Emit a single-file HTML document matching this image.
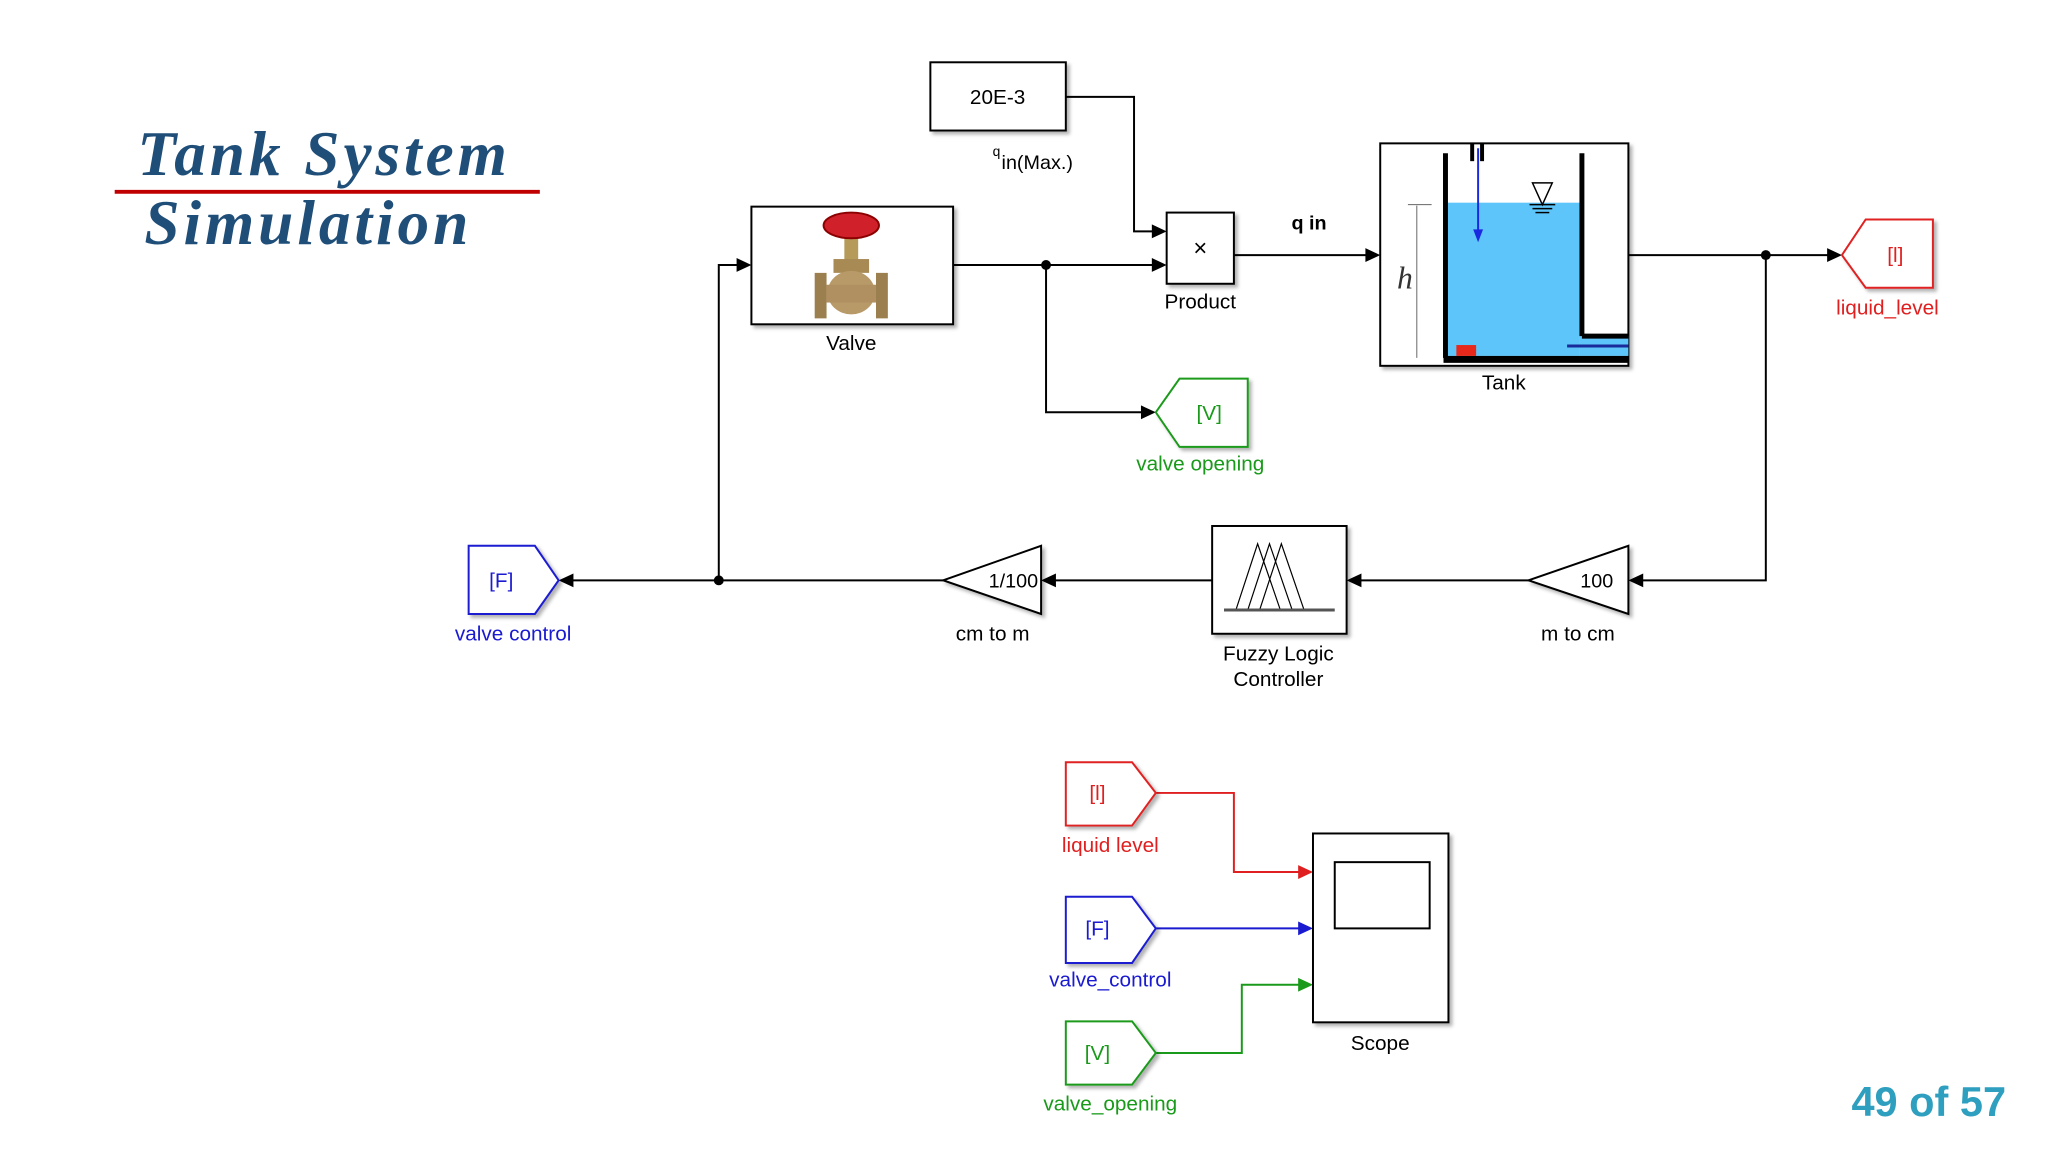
<!DOCTYPE html>
<html><head><meta charset="utf-8"><style>
html,body{margin:0;padding:0;background:#fff;}
svg{display:block;}
text{font-family:"Liberation Sans",sans-serif;}
</style></head><body>
<svg width="2048" height="1152" viewBox="0 0 2048 1152" xmlns="http://www.w3.org/2000/svg">
<defs>
<filter id="sh" x="-10%" y="-10%" width="130%" height="130%"><feDropShadow dx="3" dy="3" stdDeviation="2" flood-color="#000" flood-opacity="0.3"/></filter>
</defs>
<g transform="scale(0.9887)">
<text x="139" y="177" font-style="italic" font-weight="bold" font-size="64" letter-spacing="4" fill="#1f4e79" style="font-family:'Liberation Serif',serif">Tank System</text>
<line x1="116" y1="194" x2="546" y2="194" stroke="#c00000" stroke-width="4"/>
<text x="146" y="247" font-style="italic" font-weight="bold" font-size="64" letter-spacing="4" fill="#1f4e79" style="font-family:'Liberation Serif',serif">Simulation</text>

<g stroke="#000" stroke-width="2" fill="none">
<polyline points="1078,98 1147,98 1147,234 1170,234"/>
<line x1="964" y1="268" x2="1170" y2="268"/>
<polyline points="1058,268 1058,417 1160,417"/>
<line x1="1248" y1="258" x2="1386" y2="258"/>
<line x1="1647" y1="258" x2="1853" y2="258"/>
<polyline points="1786,258 1786,587 1657,587"/>
<line x1="1546" y1="587" x2="1372" y2="587"/>
<line x1="1226" y1="587" x2="1063" y2="587"/>
<line x1="954" y1="587" x2="575" y2="587"/>
<polyline points="727,587 727,268 750,268"/>
</g>
<g fill="#000">
<circle cx="1058" cy="268" r="5"/><circle cx="1786" cy="258" r="5"/><circle cx="727" cy="587" r="5"/>
<polygon points="1165,227 1180,234 1165,241"/>
<polygon points="1165,261 1180,268 1165,275"/>
<polygon points="1154,410 1169,417 1154,424"/>
<polygon points="1381,251 1396,258 1381,265"/>
<polygon points="1848,251 1863,258 1848,265"/>
<polygon points="1662,580 1647,587 1662,594"/>
<polygon points="1377,580 1362,587 1377,594"/>
<polygon points="1068,580 1053,587 1068,594"/>
<polygon points="580,580 565,587 580,594"/>
<polygon points="745,261 760,268 745,275"/>
</g>

<rect x="941" y="63" width="137" height="69" fill="#fff" stroke="#000" stroke-width="2" filter="url(#sh)"/>
<text x="1009" y="105" font-size="21" text-anchor="middle">20E-3</text>
<text x="1004" y="158" font-size="14">q</text><text x="1013" y="171" font-size="20">in(Max.)</text>

<rect x="1180" y="215" width="68" height="72" fill="#fff" stroke="#000" stroke-width="2" filter="url(#sh)"/>
<text x="1214" y="259" font-size="24" text-anchor="middle">×</text>
<text x="1214" y="312" font-size="21" text-anchor="middle">Product</text>
<text x="1324" y="232" font-size="20" font-weight="bold" text-anchor="middle">q in</text>

<rect x="760" y="209" width="204" height="119" fill="#fff" stroke="#000" stroke-width="2" filter="url(#sh)"/>
<g>
<rect x="854" y="236" width="14" height="30" fill="#b59a5a"/>
<ellipse cx="861" cy="228" rx="28" ry="13" fill="#d0202a" stroke="#8b0000" stroke-width="2"/>
<rect x="843" y="262" width="36" height="14" fill="#a88a55"/>
<ellipse cx="861" cy="296" rx="24" ry="22" fill="#b89a68"/>
<rect x="824" y="276" width="12" height="46" fill="#9c7f4f"/>
<rect x="886" y="276" width="12" height="46" fill="#9c7f4f"/>
<rect x="836" y="288" width="50" height="18" fill="#b09060"/>
</g>
<text x="861" y="354" font-size="21" text-anchor="middle">Valve</text>

<polygon points="1169,417 1193,383 1262,383 1262,452 1193,452" fill="#fff" stroke="#1a9a1a" stroke-width="2" filter="url(#sh)"/>
<text x="1223" y="425" font-size="21" fill="#1a9a1a" text-anchor="middle">[V]</text>
<text x="1214" y="476" font-size="21" fill="#1a9a1a" text-anchor="middle">valve opening</text>

<rect x="1396" y="145" width="251" height="225" fill="#fff" stroke="#000" stroke-width="2" filter="url(#sh)"/>
<rect x="1462" y="205" width="136" height="155" fill="#5ec5fa"/>
<rect x="1598" y="340" width="49" height="20" fill="#5ec5fa"/>
<line x1="1462" y1="155" x2="1462" y2="362" stroke="#000" stroke-width="5"/>
<line x1="1600" y1="155" x2="1600" y2="340" stroke="#000" stroke-width="5"/>
<line x1="1600" y1="340" x2="1647" y2="340" stroke="#000" stroke-width="5"/>
<line x1="1585" y1="350" x2="1647" y2="350" stroke="#1a2a9a" stroke-width="3"/>
<rect x="1460" y="360" width="187" height="7" fill="#000"/>
<rect x="1473" y="349" width="20" height="11" fill="#e8281a"/>
<rect x="1487" y="145" width="4" height="18" fill="#000"/><rect x="1497" y="145" width="4" height="18" fill="#000"/>
<line x1="1495" y1="150" x2="1495" y2="235" stroke="#1a2ae0" stroke-width="2"/>
<polygon points="1490,232 1500,232 1495,245" fill="#1a2ae0"/>
<polygon points="1550,185 1570,185 1560,207" fill="none" stroke="#000" stroke-width="1.5"/>
<line x1="1547" y1="207" x2="1573" y2="207" stroke="#000" stroke-width="1.5"/>
<line x1="1550" y1="211" x2="1570" y2="211" stroke="#000" stroke-width="1.5"/>
<line x1="1553" y1="215" x2="1567" y2="215" stroke="#000" stroke-width="1.5"/>
<line x1="1433" y1="208" x2="1433" y2="362" stroke="#666" stroke-width="1"/>
<line x1="1424" y1="207" x2="1448" y2="207" stroke="#666" stroke-width="1"/>
<text x="1413" y="292" font-size="32" font-style="italic" style="font-family:'Liberation Serif',serif" fill="#333">h</text>
<text x="1521" y="394" font-size="21" text-anchor="middle">Tank</text>

<polygon points="1863,258 1887,222 1955,222 1955,291 1887,291" fill="#fff" stroke="#e02020" stroke-width="2" filter="url(#sh)"/>
<text x="1917" y="265" font-size="21" fill="#e02020" text-anchor="middle">[l]</text>
<text x="1909" y="318" font-size="21" fill="#e02020" text-anchor="middle">liquid_level</text>

<polygon points="1546,587 1647,552 1647,621" fill="#fff" stroke="#000" stroke-width="2" filter="url(#sh)"/>
<text x="1615" y="594" font-size="20" text-anchor="middle">100</text>
<text x="1596" y="648" font-size="21" text-anchor="middle">m to cm</text>

<rect x="1226" y="532" width="136" height="109" fill="#fff" stroke="#000" stroke-width="2" filter="url(#sh)"/>
<g stroke="#000" stroke-width="1.2" fill="none">
<polyline points="1250,617 1272,550 1295,617"/>
<polyline points="1262,617 1284,550 1307,617"/>
<polyline points="1274,617 1296,550 1319,617"/>
<line x1="1238" y1="617" x2="1350" y2="617" stroke="#555" stroke-width="3"/>
</g>
<text x="1293" y="668" font-size="21" text-anchor="middle">Fuzzy Logic</text>
<text x="1293" y="694" font-size="21" text-anchor="middle">Controller</text>

<polygon points="954,587 1053,552 1053,621" fill="#fff" stroke="#000" stroke-width="2" filter="url(#sh)"/>
<text x="1025" y="594" font-size="20" text-anchor="middle">1/100</text>
<text x="1004" y="648" font-size="21" text-anchor="middle">cm to m</text>

<polygon points="474,552 541,552 565,587 541,621 474,621" fill="#fff" stroke="#1a1ad0" stroke-width="2" filter="url(#sh)"/>
<text x="507" y="594" font-size="21" fill="#1a1ad0" text-anchor="middle">[F]</text>
<text x="519" y="648" font-size="21" fill="#1a1ad0" text-anchor="middle">valve control</text>

<polyline points="1169,802 1248,802 1248,882 1318,882" fill="none" stroke="#e02020" stroke-width="2"/>
<polygon points="1313,875 1328,882 1313,889" fill="#e02020"/>
<line x1="1169" y1="939" x2="1318" y2="939" stroke="#1a1ad0" stroke-width="2"/>
<polygon points="1313,932 1328,939 1313,946" fill="#1a1ad0"/>
<polyline points="1169,1065 1256,1065 1256,996 1318,996" fill="none" stroke="#1a9a1a" stroke-width="2"/>
<polygon points="1313,989 1328,996 1313,1003" fill="#1a9a1a"/>

<polygon points="1078,771 1145,771 1169,802 1145,835 1078,835" fill="#fff" stroke="#e02020" stroke-width="2" filter="url(#sh)"/>
<text x="1110" y="809" font-size="21" fill="#e02020" text-anchor="middle">[l]</text>
<text x="1123" y="862" font-size="21" fill="#e02020" text-anchor="middle">liquid level</text>

<polygon points="1078,907 1145,907 1169,939 1145,974 1078,974" fill="#fff" stroke="#1a1ad0" stroke-width="2" filter="url(#sh)"/>
<text x="1110" y="946" font-size="21" fill="#1a1ad0" text-anchor="middle">[F]</text>
<text x="1123" y="998" font-size="21" fill="#1a1ad0" text-anchor="middle">valve_control</text>

<polygon points="1078,1033 1145,1033 1169,1065 1145,1097 1078,1097" fill="#fff" stroke="#1a9a1a" stroke-width="2" filter="url(#sh)"/>
<text x="1110" y="1072" font-size="21" fill="#1a9a1a" text-anchor="middle">[V]</text>
<text x="1123" y="1123" font-size="21" fill="#1a9a1a" text-anchor="middle">valve_opening</text>

<rect x="1328" y="843" width="137" height="191" fill="#fff" stroke="#000" stroke-width="2" filter="url(#sh)"/>
<rect x="1350" y="872" width="96" height="67" fill="#fff" stroke="#000" stroke-width="2"/>
<text x="1396" y="1062" font-size="21" text-anchor="middle">Scope</text>

<text x="2029" y="1129" font-size="42" font-weight="bold" fill="#2e9fbf" text-anchor="end">49 of 57</text>
</g>
</svg>
</body></html>
